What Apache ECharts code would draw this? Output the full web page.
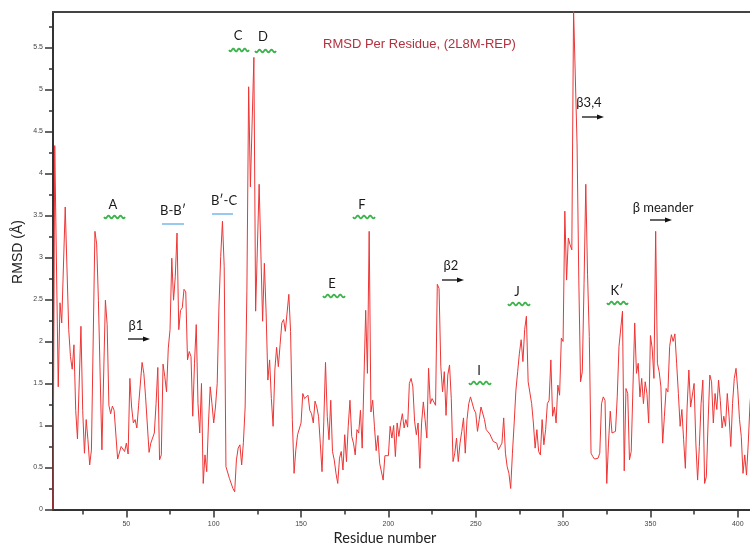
<!DOCTYPE html>
<html>
<head>
<meta charset="utf-8">
<script src="https://cdn.jsdelivr.net/npm/echarts@6/dist/echarts.min.js"></script>
<style>
  html, body { margin: 0; padding: 0; background: #fff; }
  #chart { width: 750px; height: 547px; }
</style>
</head>
<body>
<div id="chart"></div>
<script>
// ---- data ----
const residues = [
  8, 9, 11, 12, 13, 15, 17, 18, 19, 20, 21, 22, 23, 24, 25, 26, 27, 28, 29, 30,
  32, 33, 34, 36, 38, 39, 40, 41, 42, 43, 45, 46, 47, 48, 49, 50, 51, 52, 53, 54,
  55, 56, 57, 58, 59, 60, 61, 63, 64, 66, 67, 68, 69, 70, 71, 72, 73, 74, 75, 76,
  77, 78, 79, 80, 81, 82, 83, 84, 85, 86, 87, 88, 89, 90, 91, 92, 93, 94, 95, 96,
  97, 98, 99, 100, 101, 102, 103, 104, 105, 106, 107, 108, 109, 110, 111, 112, 113, 114, 115, 116,
  117, 118, 119, 120, 121, 123, 124, 126, 128, 129, 130, 131, 132, 133, 134, 135, 136, 137, 138, 139,
  140, 141, 142, 143, 144, 145, 146, 147, 148, 149, 150, 151, 152, 153, 154, 155, 156, 157, 158, 159,
  160, 161, 162, 163, 164, 165, 166, 167, 168, 169, 170, 171, 172, 173, 174, 175, 176, 177, 178, 179,
  180, 181, 182, 183, 184, 185, 186, 187, 188, 189, 190, 191, 192, 193, 194, 195, 196, 197, 198, 199,
  200, 201, 202, 203, 204, 205, 206, 207, 208, 209, 210, 211, 212, 213, 214, 215, 216, 217, 218, 219,
  220, 221, 222, 223, 224, 225, 226, 227, 228, 229, 230, 231, 232, 233, 234, 235, 236, 237, 238, 239,
  240, 241, 242, 243, 244, 245, 246, 247, 248, 249, 250, 251, 252, 253, 254, 255, 256, 257, 258, 259,
  260, 261, 262, 263, 264, 265, 266, 267, 268, 269, 270, 271, 272, 273, 274, 275, 276, 277, 278, 279,
  280, 281, 282, 283, 284, 285, 286, 287, 288, 289, 290, 291, 292, 293, 294, 295, 296, 297, 298, 299,
  300, 301, 302, 303, 304, 305, 306, 307, 308, 309, 310, 311, 312, 313, 314, 315, 316, 317, 318, 319,
  320, 321, 322, 323, 324, 325, 326, 327, 328, 329, 330, 331, 332, 334, 335, 336, 337, 338, 339, 340,
  341, 342, 343, 344, 345, 346, 347, 348, 349, 350, 351, 352, 353, 354, 355, 356, 357, 358, 359, 360,
  361, 362, 363, 364, 365, 366, 367, 368, 369, 370, 371, 372, 373, 374, 375, 376, 377, 378, 379, 380,
  381, 382, 383, 384, 385, 386, 387, 388, 389, 390, 391, 392, 393, 394, 395, 396, 397, 398, 399, 400,
  401, 402, 403, 404, 405, 406, 407, 408
];
const rmsd = [
  0.00, 4.33, 1.46, 2.46, 2.22, 3.60, 2.14, 1.82, 1.67, 1.96, 1.18, 0.84, 0.82, 2.18, 1.18, 0.67, 1.07, 0.83, 0.53, 0.71,
  3.31, 3.16, 2.49, 0.71, 2.49, 2.20, 1.24, 1.14, 1.23, 1.18, 0.60, 0.60, 0.75, 0.75, 0.69, 0.79, 0.66, 1.56, 1.22, 1.03,
  1.07, 0.97, 1.24, 1.26, 1.75, 1.62, 1.34, 0.68, 0.79, 0.91, 1.26, 1.69, 0.59, 0.65, 1.73, 1.58, 1.40, 1.92, 2.14, 2.99,
  2.49, 2.77, 3.29, 2.14, 2.37, 2.40, 2.62, 2.59, 1.78, 1.88, 1.82, 1.11, 1.74, 2.20, 1.26, 0.91, 1.50, 0.31, 0.65, 0.45,
  1.03, 1.46, 1.26, 1.03, 1.22, 1.50, 2.41, 3.01, 3.43, 2.89, 0.51, 0.51, 0.37, 0.36, 0.25, 0.21, 0.59, 0.73, 0.77, 0.53,
  0.80, 1.22, 2.61, 5.03, 3.84, 5.38, 2.36, 3.87, 2.24, 2.93, 2.34, 1.54, 1.78, 1.32, 0.99, 1.66, 1.93, 1.70, 1.96, 2.22,
  2.26, 2.12, 2.14, 2.56, 2.12, 1.07, 0.43, 0.71, 0.89, 0.87, 1.03, 1.38, 1.32, 1.34, 1.36, 1.18, 1.14, 1.03, 1.29, 1.22,
  1.11, 0.79, 0.45, 1.03, 1.75, 1.11, 0.83, 1.30, 0.69, 0.59, 0.43, 0.31, 0.61, 0.69, 0.47, 0.89, 0.57, 0.99, 1.30, 0.87,
  0.79, 0.65, 0.95, 0.91, 1.18, 0.73, 1.54, 2.37, 1.62, 3.31, 1.16, 1.30, 0.99, 0.70, 0.88, 0.55, 0.53, 0.35, 0.64, 0.65,
  0.64, 0.99, 0.85, 1.00, 0.63, 1.03, 0.87, 1.03, 1.14, 0.97, 1.07, 0.98, 1.50, 1.56, 1.46, 1.05, 0.89, 1.03, 0.49, 1.03,
  1.28, 1.07, 0.85, 1.68, 1.26, 1.32, 1.34, 1.24, 2.68, 2.63, 1.70, 1.40, 1.64, 1.12, 1.60, 1.72, 1.32, 0.57, 0.67, 0.85,
  0.57, 0.79, 0.93, 1.09, 0.67, 1.07, 1.26, 1.34, 1.32, 1.19, 1.15, 0.93, 1.07, 1.22, 1.23, 1.07, 0.95, 0.93, 0.90, 0.90,
  0.81, 0.83, 0.79, 0.71, 0.69, 0.79, 1.09, 0.67, 0.51, 0.43, 0.25, 0.67, 1.03, 1.42, 1.64, 1.86, 2.02, 1.76, 2.14, 2.30,
  1.52, 1.54, 1.26, 1.03, 0.73, 0.95, 0.69, 0.65, 1.07, 0.77, 0.95, 1.26, 1.30, 1.78, 1.11, 1.22, 1.03, 1.48, 1.36, 2.04,
  2.00, 3.55, 2.73, 3.23, 3.15, 3.09, 5.95, 5.95, 4.35, 2.73, 1.52, 1.64, 2.69, 3.87, 2.80, 2.06, 0.67, 0.63, 0.60, 0.60,
  0.61, 0.67, 1.26, 1.34, 1.30, 0.31, 0.79, 1.17, 0.91, 0.91, 0.93, 1.34, 1.94, 2.36, 0.46, 1.44, 1.38, 0.59, 0.69, 0.69,
  2.22, 1.62, 1.74, 1.34, 1.56, 1.26, 1.52, 1.38, 1.03, 2.07, 1.92, 1.56, 3.31, 1.74, 1.64, 1.46, 0.79, 1.11, 1.44, 1.40,
  1.94, 2.08, 2.00, 2.09, 1.74, 1.38, 0.99, 1.19, 0.83, 0.49, 1.22, 1.66, 1.22, 1.22, 1.50, 0.79, 0.35, 0.75, 1.26, 1.54,
  0.31, 0.39, 1.03, 1.60, 1.52, 1.03, 1.38, 1.19, 1.54, 1.30, 0.97, 1.11, 0.99, 1.38, 1.11, 0.75, 1.26, 1.56, 1.68, 1.42,
  1.07, 0.87, 0.43, 0.65, 0.41, 0.79, 1.26, 1.50
];
const xMajorTicks = [50, 100, 150, 200, 250, 300, 350, 400];
const xMinorTicks = [25, 75, 125, 175, 225, 275, 325, 375];
const yMinorTicks = [0.25, 0.75, 1.25, 1.75, 2.25, 2.75, 3.25, 3.75, 4.25, 4.75, 5.25, 5.75];

const titleText = 'RMSD Per Residue, (2L8M-REP)';
const xName = 'Residue number';
const yName = 'RMSD (Å)';

// annotation labels (pixel placement) 
const annoLabels = ['A', 'B-B\u2032', 'B\u2032-C', 'C', 'D', 'E', 'F', '\u03b22', 'I', 'J', 'K\u2032', '\u03b21', '\u03b23,4', '\u03b2 meander'];
const annoKinds  = ['wave', 'bar', 'bar', 'wave', 'wave', 'wave', 'wave', 'arrow', 'wave', 'wave', 'wave', 'arrow', 'arrow', 'arrow'];
const annoTextXY = [[113,205],[173,211],[224,201],[238,36],[263,37],[332,284],[362,205],[451,266],[479,371],[517,292],[617,291],[136,326],[589,103],[663,208]];
const annoMarkXY = [[104,125,217],[162,184,224],[212,233,214],[229,249,50],[255,276,51],[323,345,296],[353,375,217],[442,464,280],[469,491,383],[508,530,304],[607,628,303],[128,150,339],[582,604,117],[650,672,220]];

const pairs = residues.map((r, i) => [r, rmsd[i]]);

function wavePoints(x1, x2, y) {
  const pts = [];
  const cycles = 3.5;
  for (let t = x1; t <= x2 + 0.01; t += 0.5) {
    pts.push([t, y + 1.4 * Math.sin((t - x1) / (x2 - x1) * Math.PI * 2 * cycles)]);
  }
  return pts;
}

const graphics = [];
graphics.push({
  type: 'text', x: 419.5, y: 44,
  style: { text: titleText, font: '13px "Liberation Sans", Arial, sans-serif', fill: '#b3313f', textAlign: 'center', textVerticalAlign: 'middle' }
});
graphics.push({
  type: 'text', x: 385, y: 538,
  style: { text: xName, font: '14.5px Lato, "Open Sans", sans-serif', fill: '#222', textAlign: 'center', textVerticalAlign: 'middle' }
});
graphics.push({
  type: 'text', x: 18.5, y: 252, rotation: Math.PI / 2,
  style: { text: yName, font: '14px "Liberation Sans", Arial, sans-serif', fill: '#222', textAlign: 'center', textVerticalAlign: 'middle' }
});
annoLabels.forEach((lab, i) => {
  const [tx, ty] = annoTextXY[i];
  const [x1, x2, my] = annoMarkXY[i];
  graphics.push({
    type: 'text', x: tx, y: ty,
    style: { text: lab, font: '13px Lato, "Open Sans", sans-serif', fill: '#1a1a1a', textAlign: 'center', textVerticalAlign: 'middle' }
  });
  const kind = annoKinds[i];
  if (kind === 'wave') {
    graphics.push({ type: 'polyline', shape: { points: wavePoints(x1, x2, my) }, style: { stroke: '#3cb44b', lineWidth: 1.8, fill: null } });
  } else if (kind === 'bar') {
    graphics.push({ type: 'line', shape: { x1: x1, y1: my, x2: x2, y2: my }, style: { stroke: '#8cc4ea', lineWidth: 1.8 } });
  } else {
    graphics.push({ type: 'line', shape: { x1: x1, y1: my, x2: x2 - 5, y2: my }, style: { stroke: '#111', lineWidth: 1.3 } });
    graphics.push({ type: 'polygon', shape: { points: [[x2, my], [x2 - 7, my - 2.6], [x2 - 7, my + 2.6]] }, style: { fill: '#111' } });
  }
});

const chart = echarts.init(document.getElementById('chart'), null, { renderer: 'canvas' });
const axisColor = '#333';
chart.setOption({
  animation: false,
  backgroundColor: '#fff',
  grid: { left: 53, right: 0, top: 12, bottom: 37.5, containLabel: false },
  xAxis: [
    {
      type: 'value', min: 8, max: 407, position: 'bottom',
      axisLine: { show: true, onZero: false, lineStyle: { color: axisColor, width: 2 } },
      axisTick: { show: true, customValues: xMajorTicks, length: 8, lineStyle: { color: axisColor, width: 1.5 } },
      axisLabel: { show: true, customValues: xMajorTicks, fontSize: 7, color: '#444', margin: 11, fontFamily: '"Liberation Sans", Arial, sans-serif' },
      splitLine: { show: false }
    },
    {
      type: 'value', min: 8, max: 407, position: 'bottom',
      axisLine: { show: false, onZero: false },
      axisTick: { show: true, customValues: xMinorTicks, length: 5, lineStyle: { color: axisColor, width: 1.5 } },
      axisLabel: { show: false },
      splitLine: { show: false }
    },
    {
      type: 'value', min: 8, max: 407, position: 'top',
      axisLine: { show: true, onZero: false, lineStyle: { color: '#444', width: 2 } },
      axisTick: { show: false }, axisLabel: { show: false }, splitLine: { show: false }
    }
  ],
  yAxis: [
    {
      type: 'value', min: 0, max: 5.92, interval: 0.5, position: 'left',
      axisLine: { show: true, onZero: false, lineStyle: { color: axisColor, width: 2 } },
      axisTick: { show: true, length: 8, lineStyle: { color: axisColor, width: 1.5 } },
      axisLabel: { show: true, fontSize: 7, color: '#444', margin: 10, fontFamily: '"Liberation Sans", Arial, sans-serif', showMaxLabel: false },
      splitLine: { show: false }
    },
    {
      type: 'value', min: 0, max: 5.92, position: 'left',
      axisLine: { show: false, onZero: false },
      axisTick: { show: true, customValues: yMinorTicks, length: 4, lineStyle: { color: axisColor, width: 1.5 } },
      axisLabel: { show: false }, splitLine: { show: false }
    }
  ],
  series: [{
    type: 'line', xAxisIndex: 0, yAxisIndex: 0, data: pairs,
    showSymbol: false, symbol: 'none', clip: true,
    lineStyle: { color: '#ee3535', width: 1 },
    z: 1
  }],
  graphic: { elements: graphics }
});
</script>
</body>
</html>
